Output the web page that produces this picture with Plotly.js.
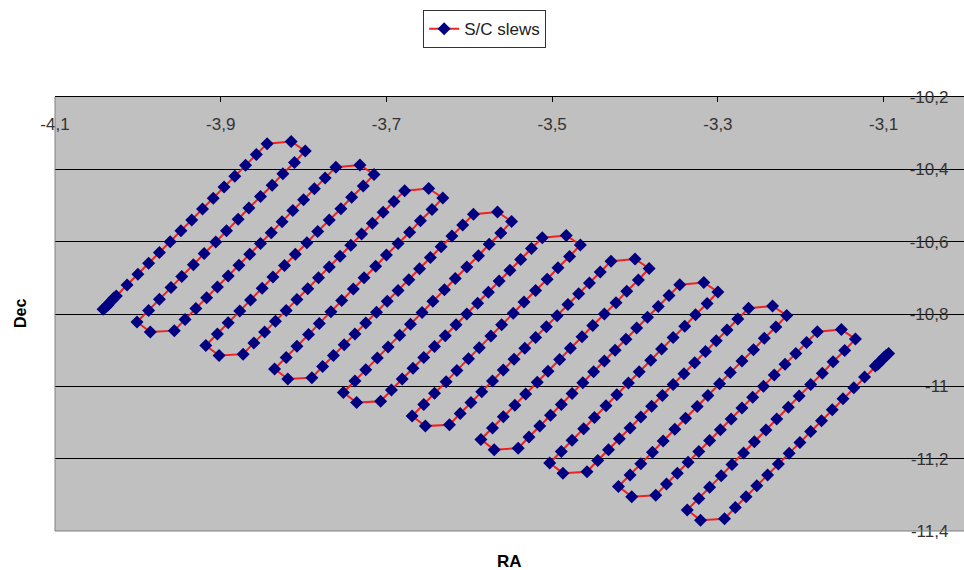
<!DOCTYPE html>
<html>
<head>
<meta charset="utf-8">
<script src="https://cdn.plot.ly/plotly-3.0.1.min.js"></script>
<style>html,body{margin:0;padding:0;background:#fff;}#chart{width:964px;height:570px;}</style>
</head>
<body>
<div id="chart"></div>
<script>
// Start of the scan (dense cluster + first up-leg)
const raStart = [-4.042,-4.039,-4.036,-4.034,-4.031,-4.029,-4.026,-4.013,-4.000,-3.987,-3.974,-3.961,-3.948,-3.935,-3.922,-3.909,-3.896,-3.883,-3.870,-3.857];
const decStart = [-10.787,-10.781,-10.775,-10.768,-10.762,-10.756,-10.750,-10.720,-10.690,-10.660,-10.630,-10.600,-10.570,-10.540,-10.510,-10.480,-10.449,-10.419,-10.389,-10.359];

// Each loop: top turn, down-leg, bottom turn, up-leg
const raLoop0 = [-3.844,-3.815,-3.798,-3.811,-3.825,-3.838,-3.852,-3.866,-3.879,-3.893,-3.906,-3.920,-3.933,-3.947,-3.960,-3.974,-3.987,-4.001,-3.985,-3.956,-3.943,-3.930,-3.917,-3.904,-3.891,-3.878,-3.865,-3.852,-3.839,-3.826,-3.813,-3.800,-3.787,-3.774];
const decLoop0 = [-10.329,-10.323,-10.349,-10.381,-10.412,-10.444,-10.475,-10.507,-10.538,-10.570,-10.601,-10.633,-10.664,-10.696,-10.727,-10.759,-10.790,-10.822,-10.850,-10.846,-10.815,-10.785,-10.755,-10.725,-10.695,-10.665,-10.635,-10.605,-10.575,-10.545,-10.514,-10.484,-10.454,-10.424];

const raLoop1 = [-3.761,-3.732,-3.715,-3.728,-3.742,-3.755,-3.769,-3.783,-3.796,-3.810,-3.823,-3.837,-3.850,-3.864,-3.877,-3.891,-3.904,-3.918,-3.902,-3.873,-3.860,-3.847,-3.834,-3.821,-3.808,-3.795,-3.782,-3.769,-3.756,-3.743,-3.730,-3.717,-3.704,-3.691];
const decLoop1 = [-10.394,-10.388,-10.414,-10.446,-10.477,-10.509,-10.540,-10.572,-10.603,-10.635,-10.666,-10.698,-10.729,-10.761,-10.792,-10.824,-10.855,-10.887,-10.915,-10.911,-10.880,-10.850,-10.820,-10.790,-10.760,-10.730,-10.700,-10.670,-10.640,-10.610,-10.579,-10.549,-10.519,-10.489];

const raLoop2 = [-3.678,-3.649,-3.632,-3.645,-3.659,-3.672,-3.686,-3.700,-3.713,-3.727,-3.740,-3.754,-3.767,-3.781,-3.794,-3.808,-3.821,-3.835,-3.819,-3.790,-3.777,-3.764,-3.751,-3.738,-3.725,-3.712,-3.699,-3.686,-3.673,-3.660,-3.647,-3.634,-3.621,-3.608];
const decLoop2 = [-10.459,-10.453,-10.479,-10.511,-10.542,-10.574,-10.605,-10.637,-10.668,-10.700,-10.731,-10.763,-10.794,-10.826,-10.857,-10.889,-10.920,-10.952,-10.980,-10.976,-10.945,-10.915,-10.885,-10.855,-10.825,-10.795,-10.765,-10.735,-10.705,-10.675,-10.644,-10.614,-10.584,-10.554];

const raLoop3 = [-3.595,-3.566,-3.549,-3.562,-3.576,-3.589,-3.603,-3.617,-3.630,-3.644,-3.657,-3.671,-3.684,-3.698,-3.711,-3.725,-3.738,-3.752,-3.736,-3.707,-3.694,-3.681,-3.668,-3.655,-3.642,-3.629,-3.616,-3.603,-3.590,-3.577,-3.564,-3.551,-3.538,-3.525];
const decLoop3 = [-10.524,-10.518,-10.544,-10.576,-10.607,-10.639,-10.670,-10.702,-10.733,-10.765,-10.796,-10.828,-10.859,-10.891,-10.922,-10.954,-10.985,-11.017,-11.045,-11.041,-11.010,-10.980,-10.950,-10.920,-10.890,-10.860,-10.830,-10.800,-10.770,-10.740,-10.709,-10.679,-10.649,-10.619];

const raLoop4 = [-3.512,-3.483,-3.466,-3.479,-3.493,-3.506,-3.520,-3.534,-3.547,-3.561,-3.574,-3.588,-3.601,-3.615,-3.628,-3.642,-3.655,-3.669,-3.653,-3.624,-3.611,-3.598,-3.585,-3.572,-3.559,-3.546,-3.533,-3.520,-3.507,-3.494,-3.481,-3.468,-3.455,-3.442];
const decLoop4 = [-10.589,-10.583,-10.609,-10.641,-10.672,-10.704,-10.735,-10.767,-10.798,-10.830,-10.861,-10.893,-10.924,-10.956,-10.987,-11.019,-11.050,-11.082,-11.110,-11.106,-11.075,-11.045,-11.015,-10.985,-10.955,-10.925,-10.895,-10.865,-10.835,-10.805,-10.774,-10.744,-10.714,-10.684];

const raLoop5 = [-3.429,-3.400,-3.383,-3.396,-3.410,-3.423,-3.437,-3.451,-3.464,-3.478,-3.491,-3.505,-3.518,-3.532,-3.545,-3.559,-3.572,-3.586,-3.570,-3.541,-3.528,-3.515,-3.502,-3.489,-3.476,-3.463,-3.450,-3.437,-3.424,-3.411,-3.398,-3.385,-3.372,-3.359];
const decLoop5 = [-10.654,-10.648,-10.674,-10.706,-10.737,-10.769,-10.800,-10.832,-10.863,-10.895,-10.926,-10.958,-10.989,-11.021,-11.052,-11.084,-11.115,-11.147,-11.175,-11.171,-11.140,-11.110,-11.080,-11.050,-11.020,-10.990,-10.960,-10.930,-10.900,-10.870,-10.839,-10.809,-10.779,-10.749];

const raLoop6 = [-3.346,-3.317,-3.300,-3.313,-3.327,-3.340,-3.354,-3.368,-3.381,-3.395,-3.408,-3.422,-3.435,-3.449,-3.462,-3.476,-3.489,-3.503,-3.487,-3.458,-3.445,-3.432,-3.419,-3.406,-3.393,-3.380,-3.367,-3.354,-3.341,-3.328,-3.315,-3.302,-3.289,-3.276];
const decLoop6 = [-10.719,-10.713,-10.739,-10.771,-10.802,-10.834,-10.865,-10.897,-10.928,-10.960,-10.991,-11.023,-11.054,-11.086,-11.117,-11.149,-11.180,-11.212,-11.240,-11.236,-11.205,-11.175,-11.145,-11.115,-11.085,-11.055,-11.025,-10.995,-10.965,-10.935,-10.904,-10.874,-10.844,-10.814];

const raLoop7 = [-3.263,-3.234,-3.217,-3.230,-3.244,-3.257,-3.271,-3.285,-3.298,-3.312,-3.325,-3.339,-3.352,-3.366,-3.379,-3.393,-3.406,-3.420,-3.404,-3.375,-3.362,-3.349,-3.336,-3.323,-3.310,-3.297,-3.284,-3.271,-3.258,-3.245,-3.232,-3.219,-3.206,-3.193];
const decLoop7 = [-10.784,-10.778,-10.804,-10.836,-10.867,-10.899,-10.930,-10.962,-10.993,-11.025,-11.056,-11.088,-11.119,-11.151,-11.182,-11.214,-11.245,-11.277,-11.305,-11.301,-11.270,-11.240,-11.210,-11.180,-11.150,-11.120,-11.090,-11.060,-11.030,-11.000,-10.969,-10.939,-10.909,-10.879];

const raLoop8 = [-3.180,-3.151,-3.134,-3.147,-3.161,-3.174,-3.188,-3.202,-3.215,-3.229,-3.242,-3.256,-3.269,-3.283,-3.296,-3.310,-3.323,-3.337,-3.321,-3.292,-3.279,-3.266,-3.253,-3.240,-3.227,-3.214,-3.201,-3.188,-3.175,-3.162,-3.149,-3.136,-3.123,-3.110];
const decLoop8 = [-10.849,-10.843,-10.869,-10.901,-10.932,-10.964,-10.995,-11.027,-11.058,-11.090,-11.121,-11.153,-11.184,-11.216,-11.247,-11.279,-11.310,-11.342,-11.370,-11.366,-11.335,-11.305,-11.275,-11.245,-11.215,-11.185,-11.155,-11.125,-11.095,-11.065,-11.034,-11.004,-10.974,-10.944];

// End of the scan (dense cluster)
const raEnd = [-3.107,-3.105,-3.102,-3.100,-3.097,-3.094];
const decEnd = [-10.939,-10.933,-10.927,-10.921,-10.915,-10.909];

const xTickVals = [-4.1,-3.9,-3.7,-3.5,-3.3,-3.1];
const xTickText = ['-4,1','-3,9','-3,7','-3,5','-3,3','-3,1'];
const yTickVals = [-10.2,-10.4,-10.6,-10.8,-11,-11.2,-11.4];
const yTickText = ['-10,2','-10,4','-10,6','-10,8','-11','-11,2','-11,4'];

const seriesName = 'S/C slews';

const ra = [].concat(raStart, raLoop0, raLoop1, raLoop2, raLoop3, raLoop4, raLoop5, raLoop6, raLoop7, raLoop8, raEnd);
const dec = [].concat(decStart, decLoop0, decLoop1, decLoop2, decLoop3, decLoop4, decLoop5, decLoop6, decLoop7, decLoop8, decEnd);

const FONT = 'Arial, "Liberation Sans", sans-serif';

const trace = {
  x: ra, y: dec, type: 'scatter', mode: 'lines+markers', name: seriesName,
  line: {color: '#ee2222', width: 2},
  marker: {symbol: 'diamond', size: 10, color: '#000080'},
  showlegend: true
};

const layout = {
  width: 964, height: 570,
  margin: {l: 55, r: 0, t: 97, b: 39, pad: 0},
  paper_bgcolor: '#ffffff',
  plot_bgcolor: '#c0c0c0',
  font: {family: FONT, size: 17, color: '#333333'},
  showlegend: true,
  legend: {
    x: 0.405, y: 1.2, xanchor: 'left', yanchor: 'top',
    bgcolor: '#ffffff', bordercolor: '#333333', borderwidth: 1,
    font: {family: FONT, size: 17, color: '#222222'}
  },
  xaxis: {
    range: [-4.1, -3.003], side: 'top',
    showgrid: false, zeroline: false,
    showline: true, linecolor: '#000000', linewidth: 1,
    ticks: 'inside', ticklen: 5, tickcolor: '#000000', tickwidth: 1,
    tickmode: 'array', tickvals: xTickVals, ticktext: xTickText,
    ticklabelposition: 'inside', ticklabeloverflow: 'allow',
    ticklabelstandoff: 17,
    tickfont: {family: FONT, size: 17, color: '#333333'},
    fixedrange: true
  },
  yaxis: {
    range: [-11.4, -10.2], side: 'right',
    showgrid: true, gridcolor: '#000000', gridwidth: 1,
    zeroline: false, showline: false,
    ticks: 'inside', ticklen: 5, tickcolor: '#000000', tickwidth: 1,
    tickmode: 'array', tickvals: yTickVals, ticktext: yTickText,
    ticklabelposition: 'inside', ticklabeloverflow: 'allow',
    ticklabelstandoff: 11,
    tickfont: {family: FONT, size: 17, color: '#333333'},
    fixedrange: true
  },
  shapes: [
    {type: 'line', xref: 'paper', yref: 'paper', x0: 0, x1: 0, y0: 0, y1: 1, line: {color: '#808080', width: 1}, layer: 'above'},
    {type: 'line', xref: 'paper', yref: 'paper', x0: 0, x1: 1, y0: 0, y1: 0, line: {color: '#808080', width: 1}, layer: 'above'}
  ],
  annotations: [
    {text: '<b>Dec</b>', xref: 'paper', yref: 'paper', x: -0.0385, y: 0.5, textangle: -90, showarrow: false, xanchor: 'center', yanchor: 'middle', font: {family: FONT, size: 16, color: '#000000'}},
    {text: '<b>RA</b>', xref: 'paper', yref: 'paper', x: 0.5, y: -0.0714, showarrow: false, xanchor: 'center', yanchor: 'middle', font: {family: FONT, size: 17, color: '#000000'}}
  ]
};

Plotly.newPlot('chart', [trace], layout, {displayModeBar: false, staticPlot: true});
</script>
</body>
</html>
